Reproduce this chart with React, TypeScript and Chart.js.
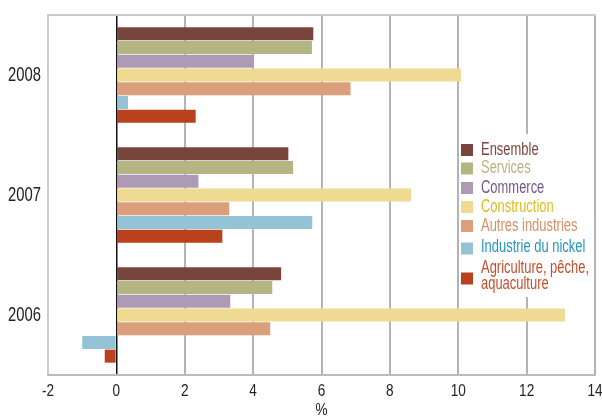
import React, { useEffect, useRef } from "react";
import { Chart, registerables } from "chart.js";

Chart.register(...registerables);

const years = ["2008", "2007", "2006"];
const seriesNames = [
  "Ensemble",
  "Services",
  "Commerce",
  "Construction",
  "Autres industries",
  "Industrie du nickel",
  "Agriculture, pêche, aquaculture",
];
const ensemble = [5.76, 5.03, 4.82];
const services = [5.72, 5.17, 4.56];
const commerce = [4.02, 2.4, 3.33];
const construction = [10.08, 8.62, 13.12];
const autres = [6.85, 3.3, 4.5];
const nickel = [0.34, 5.73, -1.0];
const agriculture = [2.32, 3.1, -0.34];
const xTicks = [-2, 0, 2, 4, 6, 8, 10, 12, 14];
const xTitle = "%";

const barColors = ["#78453c", "#b3b583", "#ae9ab5", "#eedb91", "#dc9f7c", "#93c3d5", "#b9411c"];
const textColors = ["#7a453e", "#b2b585", "#76568a", "#e0bd1c", "#d98e68", "#2596bf", "#c24f2c"];
const FONT = "'Liberation Sans', Arial, sans-serif";

function drawText(ctx: any, text: string, x: number, y: number, size: number, align: string, color: string, sx: number) {
  ctx.save();
  ctx.translate(x, y);
  ctx.scale(sx, 1);
  ctx.font = `${size}px ${FONT}`;
  ctx.textAlign = align;
  ctx.textBaseline = "middle";
  ctx.fillStyle = color;
  ctx.fillText(text, 0, 0);
  ctx.restore();
}

const labelsPlugin = {
  id: "narrowLabels",
  afterDraw(chart: any) {
    const ctx = chart.ctx;
    const xs = chart.scales.x;
    const ys = chart.scales.y;
    const area = chart.chartArea;
    ys.ticks.forEach((_t: any, i: number) => {
      drawText(ctx, years[i], area.left - 7, ys.getPixelForTick(i), 20, "right", "#222222", 0.74);
    });
    xTicks.forEach((v) => {
      drawText(ctx, String(v), xs.getPixelForValue(v), area.bottom + 16, 17, "center", "#222222", 0.8);
    });
    drawText(ctx, xTitle, (area.left + area.right) / 2, area.bottom + 35, 17, "center", "#222222", 0.8);

    // legend
    ctx.save();
    ctx.fillStyle = "#ffffff";
    ctx.fillRect(459, 134, 134, 163);
    ctx.restore();
    const boxY = [150, 168.5, 188, 207, 226, 248.5, 278.5];
    const textLines = [
      [["Ensemble", 150]],
      [["Services", 168.5]],
      [["Commerce", 188]],
      [["Construction", 207]],
      [["Autres industries", 226]],
      [["Industrie du nickel", 247]],
      [["Agriculture, pêche,", 268], ["aquaculture", 284]],
    ];
    for (let i = 0; i < seriesNames.length; i++) {
      ctx.fillStyle = barColors[i];
      ctx.fillRect(461, boxY[i] - 6, 12, 12);
      for (const [t, y] of textLines[i] as any) {
        drawText(ctx, t, 481, y, 17.5, "left", textColors[i], 0.74);
      }
    }
  },
};

const framePlugin = {
  id: "frame",
  beforeDatasetsDraw(chart: any) {
    const { ctx, chartArea } = chart;
    ctx.save();
    ctx.strokeStyle = "#cccccc";
    ctx.lineWidth = 2;
    ctx.beginPath();
    ctx.moveTo(chartArea.left - 1, chartArea.top);
    ctx.lineTo(chartArea.right + 1, chartArea.top);
    ctx.stroke();
    ctx.restore();
  },
};

export default function App() {
  const ref = useRef<HTMLCanvasElement>(null);
  useEffect(() => {
    const data = [ensemble, services, commerce, construction, autres, nickel, agriculture];
    const chart = new Chart(ref.current!, {
      type: "bar",
      data: {
        labels: years,
        datasets: seriesNames.map((n, i) => ({
          label: n,
          data: data[i],
          backgroundColor: barColors[i],
          barPercentage: 0.95,
          categoryPercentage: 0.8,
        })),
      },
      options: {
        indexAxis: "y",
        animation: false,
        responsive: false,
        maintainAspectRatio: false,
        layout: { padding: { top: 15, right: 0, left: 0, bottom: 0 } },
        plugins: { legend: { display: false }, tooltip: { enabled: false } },
        scales: {
          x: {
            min: -2,
            max: 14,
            afterBuildTicks: (s: any) => {
              s.ticks = xTicks.map((v) => ({ value: v }));
            },
            afterFit: (s: any) => {
              s.height = 44;
              s.paddingRight = 7;
              s.paddingLeft = 0;
            },
            ticks: { display: false },
            grid: {
              drawTicks: false,
              color: (c: any) =>
                c.tick && c.tick.value === 0 ? "#111111" : c.tick && c.tick.value === -2 ? "#cccccc" : "#b3b3b3",
              lineWidth: (c: any) => (c.tick && c.tick.value === 0 ? 1.5 : 2),
            },
            border: { display: true, color: "#bbbbbb", width: 2 },
          },
          y: {
            afterFit: (s: any) => {
              s.width = 48;
            },
            ticks: { display: false },
            grid: { display: false },
            border: { display: false },
          },
        },
      },
      plugins: [framePlugin, labelsPlugin],
    });
    return () => chart.destroy();
  }, []);
  return (
    <div style={{ position: "fixed", left: 0, top: 0, width: 602, height: 419, background: "#fff" }}>
      <canvas ref={ref} width={602} height={419} style={{ width: 602, height: 419 }} />
    </div>
  );
}
